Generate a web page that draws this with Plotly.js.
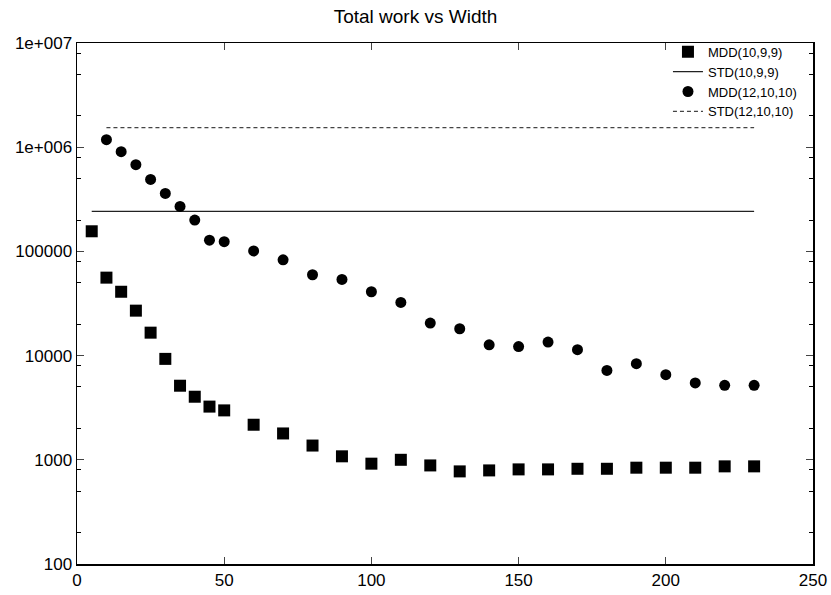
<!DOCTYPE html>
<html><head><meta charset="utf-8">
<script src="https://cdn.plot.ly/plotly-3.0.1.min.js"></script>
<style>html,body{margin:0;padding:0;background:#fff}#c{width:831px;height:595px}</style>
</head><body><div id="c"></div>
<script>
const widthsSq = [5,10,15,20,25,30,35,40,45,50,60,70,80,90,100,110,120,130,140,150,160,170,180,190,200,210,220,230];
const mdd1099 = [156000,56000,41000,27000,16600,9300,5140,4030,3240,2980,2170,1790,1370,1080,918,1000,883,774,791,809,809,820,820,840,840,840,865,865];
const widthsCi = [10,15,20,25,30,35,40,45,50,60,70,80,90,100,110,120,130,140,150,160,170,180,190,200,210,220,230];
const mdd121010 = [1180000,906000,679000,491000,360000,270000,200000,128000,124000,101000,83000,59700,53800,41000,32400,20500,18100,12700,12200,13500,11400,7200,8360,6560,5460,5180,5180];
const stdX1 = [5,230];
const std1099 = [242000,242000];
const stdX2 = [10,230];
const std121010 = [1540000,1540000];
const yTickVals = [100,1000,10000,100000,1000000,10000000];
const yTickText = ["100","1000","10000","100000","1e+006","1e+007"];
const xTickVals = [0,50,100,150,200,250];

const minorVals = [];
for (let e = 2; e < 7; e++) { [2,5,8].forEach(m => minorVals.push(m*Math.pow(10,e))); }

const traces = [
  {x: widthsSq, y: mdd1099, mode:'markers', type:'scatter', name:'MDD(10,9,9)',
   marker:{symbol:'square', size:12, color:'#000'}},
  {x: stdX1, y: std1099, mode:'lines', type:'scatter', name:'STD(10,9,9)',
   line:{color:'#222', width:1.2}},
  {x: widthsCi, y: mdd121010, mode:'markers', type:'scatter', name:'MDD(12,10,10)',
   marker:{symbol:'circle', size:11, color:'#000'}},
  {x: stdX2, y: std121010, mode:'lines', type:'scatter', name:'STD(12,10,10)',
   line:{color:'#444', width:1.2, dash:'4px,3px'}}
];

const FONT = 'Liberation Sans, Arial, sans-serif';
const layout = {
  width:831, height:595,
  margin:{l:77, r:18, t:43, b:31, pad:0},
  paper_bgcolor:'#fff', plot_bgcolor:'#fff',
  font:{family:FONT, size:16, color:'#000'},
  title:{text:'Total work vs Width', x:0.5, xanchor:'center', y:0.972, yanchor:'middle',
         font:{size:19, family:FONT, color:'#000'}},
  showlegend:true,
  legend:{x:0.985, xanchor:'right', y:1.012, yanchor:'top', bgcolor:'rgba(0,0,0,0)',
          font:{size:13, family:FONT}, tracegroupgap:0, itemwidth:30},
  xaxis:{range:[0,250], tickvals:xTickVals, ticks:'inside', ticklen:7, tickwidth:1,
         showline:true, linecolor:'#000', linewidth:1.5, mirror:'allticks',
         showgrid:false, zeroline:false, tickfont:{size:17, family:FONT}},
  yaxis:{type:'log', range:[2,7], tickvals:yTickVals, ticktext:yTickText,
         ticks:'inside', ticklen:7, tickwidth:1,
         showline:true, linecolor:'#000', linewidth:1.5, mirror:'allticks',
         showgrid:false, zeroline:false, tickfont:{size:17, family:FONT},
         minor:{tickvals:minorVals, ticks:'inside', ticklen:4, tickcolor:'#000', showgrid:false}}
};
Plotly.newPlot('c', traces, layout, {displayModeBar:false, staticPlot:true});
</script></body></html>
